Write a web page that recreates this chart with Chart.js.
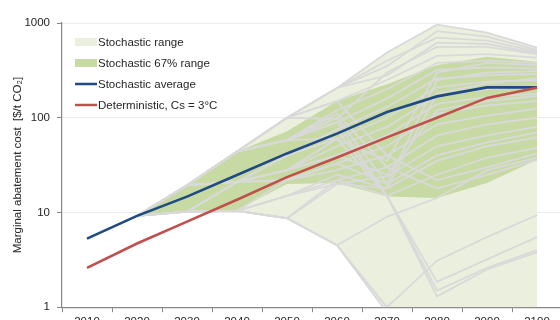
<!DOCTYPE html>
<html>
<head>
<meta charset="utf-8">
<script src="https://cdn.jsdelivr.net/npm/chart.js@4.4.1/dist/chart.umd.min.js"></script>
<style>
  html, body { margin: 0; padding: 0; background: #fff; overflow: hidden; width: 560px; height: 320px; }
  #wrap { position: absolute; left: 0; top: 0; }
</style>
</head>
<body>
<div id="wrap"><canvas id="chartCanvas" width="566" height="340"></canvas></div>
<script>
const years = ['2010', '2020', '2030', '2040', '2050', '2060', '2070', '2080', '2090', '2100'];
const yTicks = [1, 10, 100, 1000];

// main series ($/t CO2)
const stochasticAverage = [5.3, 9.2, 14.7, 24.9, 42, 68, 115, 168, 209, 209];
const deterministic = [2.6, 4.7, 8.0, 13.6, 23.6, 38, 62, 100, 162, 207];

// envelopes
const rangeUpper = [null, 9.2, 19.4, 44, 100, 206, 489, 960, 790, 550];
const rangeLower = [null, 9.2, 10.2, 10.4, 8.7, 4.5, 0.88, 0.6, 0.6, 0.6];
const likelyUpper = [null, 9.2, 19.4, 44, 72, 150, 225, 360, 440, 390];
const likelyLower = [null, 9.2, 10.2, 10.6, 20, 20.5, 14.7, 14.2, 20.5, 36];

// individual stochastic runs (grey)
const runs = [
  [null, 9.2, 19.4, 44, 100, 206, 489, 960, 790, 550],
  [null, 9.2, 19.4, 44, 100, 206, 350, 820, 720, 520],
  [null, 9.2, 19.4, 44, 100, 206, 400, 700, 650, 500],
  [null, 9.2, 19.4, 44, 100, 206, 280, 620, 600, 480],
  [null, 9.2, 19.4, 44, 100, 97, 300, 560, 560, 470],
  [null, 9.2, 19.4, 44, 100, 150, 250, 450, 470, 430],
  [null, 9.2, 19.4, 44, 58, 120, 200, 380, 400, 380],
  [null, 9.2, 19.4, 44, 58, 90, 160, 320, 340, 330],
  [null, 9.2, 19.4, 21, 40, 75, 130, 260, 280, 290],
  [null, 9.2, 19.4, 21, 40, 60, 100, 210, 240, 250],
  [null, 9.2, 19.4, 21, 28, 50, 80, 170, 200, 215],
  [null, 9.2, 10.2, 21, 28, 40, 65, 140, 165, 180],
  [null, 9.2, 10.2, 21, 22, 33, 50, 110, 135, 150],
  [null, 9.2, 10.2, 10.4, 22, 28, 40, 85, 105, 125],
  [null, 9.2, 10.2, 10.4, 15, 22, 30, 65, 85, 100],
  [null, 9.2, 10.2, 10.4, 15, 20, 24, 50, 65, 80],
  [null, 9.2, 10.2, 10.4, 8.7, 20, 18, 35, 50, 62],
  [null, 9.2, 10.2, 10.4, 8.7, 22, 15, 25, 38, 48],
  [null, 9.2, 10.2, 10.4, 8.7, 4.5, 9, 14.2, 28, 38],
  [null, 9.2, 19.4, 44, 100, 150, 40, 22, 30, 42],
  [null, 9.2, 19.4, 44, 58, 110, 30, 18, 25, 36],
  [null, 9.2, 19.4, 44, 58, 100, 20, 40, 55, 70],
  [null, 9.2, 19.4, 44, 58, 90, 15, 1.3, 2.5, 3.8],
  [null, 9.2, 19.4, 21, 40, 75, 15, 1.5, 2.6, 4.0],
  [null, 9.2, 10.2, 21, 28, 60, 15, 1.85, 3.2, 5.5],
  [null, 9.2, 10.2, 10.4, 8.7, 4.5, 1.0, 3.1, 5.5, 9.4],
  [null, 9.2, 10.2, 21, 22, 33, 20, 250, 300, 310],
  [null, 9.2, 10.2, 10.4, 15, 25, 18, 180, 230, 260],
  [null, 9.2, 19.4, 21, 28, 40, 25, 120, 150, 170],
  [null, 9.2, 19.4, 44, 58, 60, 35, 300, 380, 360],
  [null, 9.2, 10.2, 10.4, 8.7, 4.5, 0.88, 0.6, 0.6, 0.6]
];

const rangeColor = '#ebf0de';
const likelyColor = '#c8daa4';
const runColor = '#d9d9d9';
const blue = '#1f4a84';
const red = '#c0504d';
const textColor = '#262626';
const fontFamily = "'Liberation Sans', Arial, sans-serif";
const fontSize = 11.5;

Chart.defaults.font.family = fontFamily;
Chart.defaults.color = textColor;

const legendItems = [
  { text: 'Stochastic range', color: rangeColor, box: true },
  { text: 'Stochastic 67% range', color: likelyColor, box: true },
  { text: 'Stochastic average', color: blue, box: false },
  { text: 'Deterministic, Cs = 3°C', color: red, box: false }
];

// legend sits inside the plot, top left
const insideLegend = {
  id: 'insideLegend',
  afterDraw(chart) {
    const { ctx, chartArea } = chart;
    ctx.save();
    ctx.font = fontSize + 'px ' + fontFamily;
    ctx.textBaseline = 'middle';
    legendItems.forEach((it, i) => {
      const x = chartArea.left + 13;
      const y = chartArea.top + 19 + i * 21;
      if (it.box) {
        ctx.fillStyle = it.color;
        ctx.fillRect(x, y - 4, 22, 8);
      } else {
        ctx.strokeStyle = it.color;
        ctx.lineWidth = 2.5;
        ctx.beginPath();
        ctx.moveTo(x, y);
        ctx.lineTo(x + 22, y);
        ctx.stroke();
      }
      ctx.fillStyle = textColor;
      ctx.fillText(it.text, x + 23, y + 1);
    });
    ctx.restore();
  }
};

const runSets = runs.map(r => ({
  data: r,
  borderColor: runColor,
  borderWidth: 1.8,
  pointRadius: 0,
  fill: false,
  tension: 0
}));

const datasets = [
  { label: 'Deterministic, Cs = 3°C', data: deterministic, borderColor: red, borderWidth: 2.6, pointRadius: 0, fill: false, tension: 0 },
  { label: 'Stochastic average', data: stochasticAverage, borderColor: blue, borderWidth: 2.6, pointRadius: 0, fill: false, tension: 0 },
  ...runSets,
  { label: 'Stochastic 67% range', data: likelyUpper, borderWidth: 0, pointRadius: 0, backgroundColor: likelyColor, fill: '+1', tension: 0 },
  { data: likelyLower, borderWidth: 0, pointRadius: 0, fill: false, tension: 0 },
  { label: 'Stochastic range', data: rangeUpper, borderWidth: 0, pointRadius: 0, backgroundColor: rangeColor, fill: '+1', tension: 0 },
  { data: rangeLower, borderWidth: 0, pointRadius: 0, fill: false, tension: 0 }
];

const ctx = document.getElementById('chartCanvas').getContext('2d');
new Chart(ctx, {
  type: 'line',
  data: { labels: years, datasets },
  options: {
    responsive: false,
    animation: false,
    events: [],
    layout: { padding: { top: 23, right: 4, bottom: 8, left: 0 } },
    plugins: {
      legend: { display: false },
      tooltip: { enabled: false }
    },
    scales: {
      x: {
        type: 'category',
        offset: true,
        grid: { offset: true, drawOnChartArea: false, tickLength: 5, tickColor: '#868686' },
        border: { color: '#868686', width: 1.2 },
        ticks: { font: { size: fontSize }, color: textColor, padding: 3, maxRotation: 0, autoSkip: false }
      },
      y: {
        type: 'logarithmic',
        min: 1,
        max: 1000,
        afterBuildTicks: s => { s.ticks = yTicks.map(v => ({ value: v })); },
        afterFit: s => { s.width = 62; },
        grid: { color: '#ececec', tickLength: 5, tickColor: '#868686' },
        border: { color: '#868686', width: 1.2 },
        ticks: { font: { size: fontSize }, color: textColor, padding: 7, callback: v => String(v) },
        title: {
          display: true,
          text: 'Marginal abatement cost  [$/t CO₂]',
          font: { size: fontSize },
          color: textColor,
          padding: { top: 11, bottom: 0 }
        }
      }
    }
  },
  plugins: [insideLegend]
});
</script>
</body>
</html>
